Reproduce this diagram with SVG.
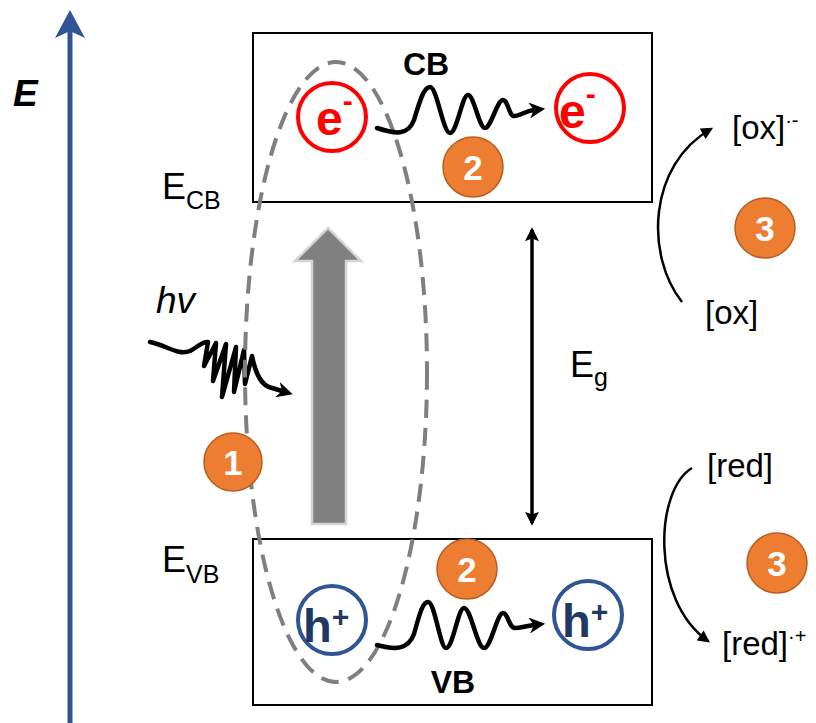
<svg xmlns="http://www.w3.org/2000/svg" width="816" height="723" viewBox="0 0 816 723">
<style>
.t{font-family:"Liberation Sans",Arial,sans-serif;fill:#000}
.b{font-weight:bold}
.box{fill:none;stroke:#000;stroke-width:2}
.badge circle{fill:#ED7D31;stroke:#B85C1F;stroke-width:1.5}
.badge text{font-family:"Liberation Sans",Arial,sans-serif;font-weight:bold;font-size:35px;fill:#fff;text-anchor:middle}
.ec{fill:#fff;stroke:#FF0000;stroke-width:4}
.hc{fill:#fff;stroke:#2F5597;stroke-width:4}
.et{font-family:"Liberation Sans",Arial,sans-serif;font-weight:bold;fill:#FF0000}
.ht{font-family:"Liberation Sans",Arial,sans-serif;font-weight:bold;fill:#1F3864}
.wave{fill:none;stroke:#000;stroke-width:4.5;stroke-linecap:round;stroke-linejoin:round}
.curve{fill:none;stroke:#000;stroke-width:2.5}
</style>
<defs>
<marker id="ah" viewBox="0 0 10 10" refX="3" refY="5" markerWidth="16" markerHeight="16" markerUnits="userSpaceOnUse" orient="auto">
<path d="M0,0 L10,5 L0,10 L3,5 z" fill="#000"/>
</marker>
<marker id="ah2" viewBox="0 0 10 10" refX="8" refY="5" markerWidth="14" markerHeight="14" markerUnits="userSpaceOnUse" orient="auto-start-reverse">
<path d="M0,0 L10,5 L0,10 L2,5 z" fill="#000"/>
</marker>
<marker id="ah3" viewBox="0 0 10 10" refX="8" refY="5" markerWidth="13" markerHeight="12" markerUnits="userSpaceOnUse" orient="auto-start-reverse">
<path d="M0,0 L10,5 L0,10 z" fill="#000"/>
</marker>
</defs>

<g id="energy-axis">
<line x1="70" y1="723" x2="70" y2="30" stroke="#2F5597" stroke-width="5"/>
<path d="M70,10 L85,38 L70,31 L55,38 z" fill="#2F5597"/>
<text class="t b" x="13" y="106" font-size="37" font-style="italic">E</text>
</g>

<g id="cb-box"><rect class="box" x="253" y="33" width="399" height="169"/></g>
<g id="vb-box"><rect class="box" x="253" y="539" width="399" height="166"/></g>

<g id="labels">
<text class="t" x="162" y="199" font-size="36">E<tspan font-size="25" dy="10">CB</tspan></text>
<text class="t" x="162" y="572" font-size="36">E<tspan font-size="25" dy="11">VB</tspan></text>
<text class="t" x="570" y="377" font-size="36">E<tspan font-size="25" dy="9">g</tspan></text>
<text class="t b" x="426" y="75" font-size="32" text-anchor="middle">CB</text>
<text class="t b" x="453" y="693" font-size="32" text-anchor="middle">VB</text>
<text class="t" x="156" y="313" font-size="37" font-style="italic">hv</text>
</g>

<g id="excitation-arrow">
<polygon points="328,228 361,261 346,261 346,524 312,524 312,261 295,261" fill="#808080" stroke="#d4d4d4" stroke-width="2.5"/>
</g>

<g id="photon">
<path class="wave" d="M150,342 C166,345 178,356 190,351 C198,347 202,341 208,342 L204,366 L216,343 L213,381 L226,344 L222,397 L236,347 L234,392 L244,350 L245,384 L252,356 C256,376 262,386 272,388 L282,391" marker-end="url(#ah)"/>
</g>

<g id="pair-ellipse">
<ellipse cx="336" cy="372" rx="91" ry="310" fill="none" stroke="#7F7F7F" stroke-width="4" stroke-dasharray="18 10"/>
</g>

<g id="connectors">
<path class="wave" d="M377,128 C395,134 408,136 414,120 C420,100 424,87 430,87 C437,87 443,133 450,133 C457,133 462,95 468,95 C474,95 479,128 485,128 C491,128 497,100 503,100 C508,100 509,116 514,116 C520,116 525,111 534,110" marker-end="url(#ah)"/>
<path class="wave" d="M377,645 C395,650 408,650 414,634 C420,612 423,602 428,602 C435,602 440,648 446,648 C453,648 458,608 464,608 C471,608 477,648 484,648 C491,648 497,613 503,613 C508,613 509,628 515,628 C521,628 525,626 534,625" marker-end="url(#ah)"/>
<line x1="532" y1="230" x2="532" y2="523" stroke="#000" stroke-width="3.5" marker-start="url(#ah2)" marker-end="url(#ah2)"/>
<path class="curve" d="M682,302 C645,255 648,165 711,129" marker-end="url(#ah3)"/>
<path class="curve" d="M692,468 C655,490 650,600 708,641" marker-end="url(#ah3)"/>
</g>

<g id="e-left"><circle class="ec" cx="332" cy="117" r="34"/><text class="et" x="316" y="135" font-size="48">e<tspan font-size="30" dy="-24">-</tspan></text></g>
<g id="e-right"><circle class="ec" cx="590" cy="108" r="34"/><text class="et" x="559" y="128" font-size="48">e<tspan font-size="30" dy="-24">-</tspan></text></g>
<g id="h-left"><circle class="hc" cx="332" cy="620" r="34"/><text class="ht" x="303" y="642" font-size="47">h<tspan font-size="30" dy="-15">+</tspan></text></g>
<g id="h-right"><circle class="hc" cx="588" cy="615" r="34"/><text class="ht" x="562" y="637" font-size="47">h<tspan font-size="30" dy="-15">+</tspan></text></g>

<g id="species">
<text class="t" x="732" y="139" font-size="33">[ox]<tspan font-size="20" dy="-12">·-</tspan></text>
<text class="t" x="705" y="324" font-size="33">[ox]</text>
<text class="t" x="707" y="477" font-size="33">[red]</text>
<text class="t" x="722" y="655" font-size="33">[red]<tspan font-size="20" dy="-12">·+</tspan></text>
</g>

<g id="badge-1" class="badge"><circle cx="233" cy="462" r="29"/><text x="233" y="475">1</text></g>
<g id="badge-2a" class="badge"><circle cx="473" cy="167" r="30"/><text x="473" y="180">2</text></g>
<g id="badge-2b" class="badge"><circle cx="467" cy="569" r="30"/><text x="467" y="582">2</text></g>
<g id="badge-3a" class="badge"><circle cx="765" cy="228" r="30"/><text x="765" y="241">3</text></g>
<g id="badge-3b" class="badge"><circle cx="777" cy="563" r="30"/><text x="777" y="576">3</text></g>
</svg>
